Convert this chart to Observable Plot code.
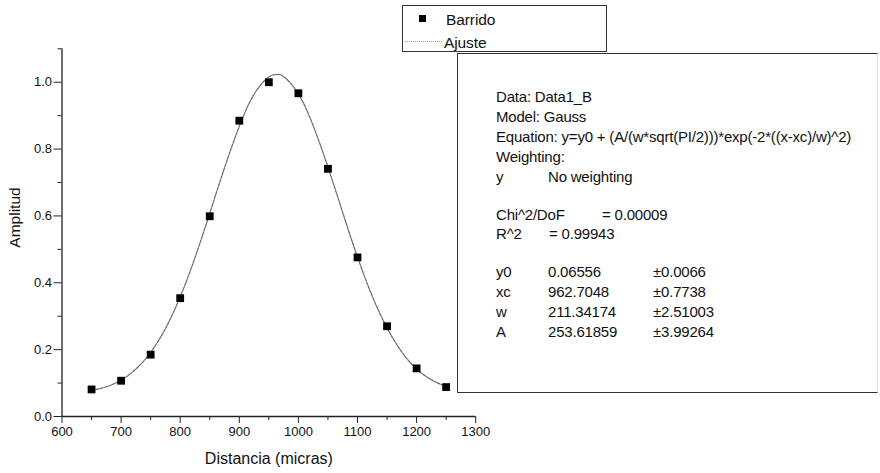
<!DOCTYPE html>
<html>
<head>
<meta charset="utf-8">
<script src="https://cdn.jsdelivr.net/npm/d3@7"></script>
<script src="https://cdn.jsdelivr.net/npm/@observablehq/plot@0.6"></script>
<style>
  html, body { margin: 0; padding: 0; background: #fff; }
  #wrap { position: relative; width: 880px; height: 473px; font-family: "Liberation Sans", Arial, sans-serif; color: #111; }
  #wrap svg { position: absolute; left: 0; top: 0; }
  .abs { position: absolute; white-space: nowrap; line-height: 1; }
  #legend { position: absolute; left: 402px; top: 5px; width: 203px; height: 45px; border: 1px solid #333; background: #fff; }
  #box { position: absolute; left: 457px; top: 53px; width: 419px; height: 338px; border: 1px solid #333; border-right-color: #ddd; background: #fff; }
  .t { font-size: 15px; letter-spacing: -0.2px; }
  .lg { font-size: 15.5px; letter-spacing: -0.1px; }
</style>
</head>
<body>
<div id="wrap"></div>
<script>
// Measured data (Barrido)
const distancia = [650, 700, 750, 800, 850, 900, 950, 1000, 1050, 1100, 1150, 1200, 1250];
const amplitud  = [0.081, 0.107, 0.185, 0.354, 0.599, 0.885, 1.0, 0.967, 0.741, 0.476, 0.270, 0.144, 0.088];

// Fitted curve (Ajuste)
const fitX = [650, 675, 700, 725, 750, 775, 800, 825, 850, 875, 900, 925, 950, 963, 975, 1000, 1025, 1050, 1075, 1100, 1125, 1150, 1175, 1200, 1225, 1250];
const fitY = [0.078, 0.089, 0.109, 0.142, 0.192, 0.263, 0.358, 0.475, 0.608, 0.744, 0.868, 0.964, 1.016, 1.023, 1.017, 0.965, 0.870, 0.746, 0.610, 0.477, 0.360, 0.265, 0.193, 0.142, 0.110, 0.089];

// Axis ticks
const xMajor = [600, 700, 800, 900, 1000, 1100, 1200, 1300];
const xMinor = [650, 750, 850, 950, 1050, 1150, 1250];
const yMajor = [0, 0.2, 0.4, 0.6, 0.8, 1.0];
const yMinor = [0.1, 0.3, 0.5, 0.7, 0.9, 1.1];

// Legend & fit report text
const legendLabels = ["Barrido", "Ajuste"];
const xLabel = "Distancia (micras)";
const yLabel = "Amplitud";

const points = distancia.map((d, i) => ({x: d, y: amplitud[i]}));
const fit = fitX.map((d, i) => ({x: d, y: fitY[i]}));

const chart = Plot.plot({
  width: 880,
  height: 473,
  marginLeft: 61.5,
  marginRight: 404.8,
  marginTop: 48.3,
  marginBottom: 57,
  style: { fontFamily: "'Liberation Sans', Arial, sans-serif", fontSize: "13px", color: "#111", background: "transparent" },
  x: { domain: [600, 1300] },
  y: { domain: [0, 1.1] },
  marks: [
    Plot.ruleX([600], { stroke: "#222", strokeWidth: 1.3 }),
    Plot.ruleY([0], { stroke: "#222", strokeWidth: 1.3 }),
    Plot.axisX({ ticks: xMajor, tickSize: 7, tickPadding: 3, tickFormat: d => String(d), label: null, fontSize: 13, stroke: "#222" }),
    Plot.axisX({ ticks: xMinor, tickSize: 4, tickFormat: () => "", label: null, stroke: "#222" }),
    Plot.axisY({ ticks: yMajor, tickSize: 8, tickPadding: 2, tickFormat: d => d.toFixed(1), label: null, fontSize: 13, stroke: "#222" }),
    Plot.axisY({ ticks: yMinor, tickSize: 4, tickFormat: () => "", label: null, stroke: "#222" }),
    Plot.line(fit, { x: "x", y: "y", curve: "natural", stroke: "#666", strokeWidth: 1.2, strokeDasharray: "3,1.2" }),
    Plot.dot(points, { x: "x", y: "y", symbol: "square", r: 4.4, fill: "#000", stroke: "none" }),
    Plot.text([xLabel], { frameAnchor: "bottom", dy: 47, fontSize: 16, fill: "#111" }),
    Plot.text([yLabel], { frameAnchor: "left", dx: -47, dy: 15, rotate: -90, fontSize: 15.5, fill: "#111" })
  ]
});
const wrap = document.getElementById("wrap");
wrap.appendChild(chart);

// Legend box
const legend = document.createElement("div");
legend.id = "legend";
legend.innerHTML = `
  <div class="abs" style="left:16px;top:9px;width:6.5px;height:6.5px;background:#000"></div>
  <div class="abs lg" style="left:43px;top:6px">${legendLabels[0]}</div>
  <div class="abs" style="left:2px;top:35px;width:37px;border-top:1px dotted #999"></div>
  <div class="abs lg" style="left:41px;top:29px">${legendLabels[1]}</div>`;
wrap.appendChild(legend);

// Fit report box
const report = [
  ["Data: Data1_B", 0, 97],
  ["Model: Gauss", 0, 117],
  ["Equation: y=y0 + (A/(w*sqrt(PI/2)))*exp(-2*((x-xc)/w)^2)", 0, 137],
  ["Weighting:", 0, 157],
  ["y", 0, 177], ["No weighting", 52, 177],
  ["Chi^2/DoF", 0, 215], ["= 0.00009", 106, 215],
  ["R^2", 0, 234], ["=  0.99943", 53, 234],
  ["y0", 0, 272], ["0.06556", 52, 272], ["±0.0066", 157, 272],
  ["xc", 0, 292], ["962.7048", 52, 292], ["±0.7738", 157, 292],
  ["w", 0, 312], ["211.34174", 52, 312], ["±2.51003", 157, 312],
  ["A", 0, 332], ["253.61859", 52, 332], ["±3.99264", 157, 332]
];
const box = document.createElement("div");
box.id = "box";
box.innerHTML = report.map(([s, dx, yc]) =>
  `<div class="abs t" style="left:${496 - 458 + dx}px;top:${yc - 54 - 8}px">${s}</div>`).join("");
wrap.appendChild(box);
</script>
</body>
</html>
